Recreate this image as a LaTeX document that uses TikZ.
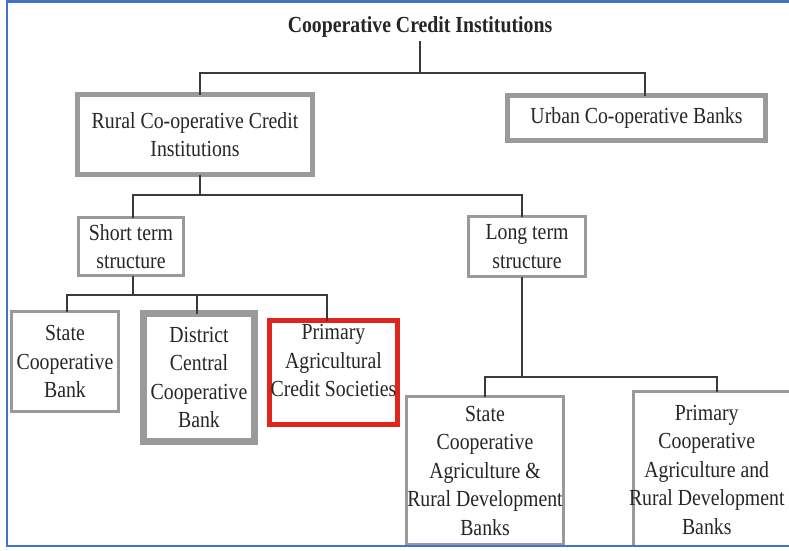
\documentclass[tikz,border=0pt]{standalone}
\usepackage{fontspec}
\setmainfont{Liberation Serif}[FakeStretch=0.86]
\usepackage{tikz}
\usepackage{xcolor}
\definecolor{framecol}{HTML}{4472C4}
\definecolor{boxgray}{HTML}{9A9A9A}
\definecolor{boxred}{HTML}{E0261C}
\definecolor{linecol}{HTML}{3A3A3A}

\begin{document}
\begin{tikzpicture}[x=1pt,y=-1pt,
        every node/.style={font=\fontsize{23}{28.5}\selectfont,text=black!85},
        box/.style={draw=boxgray,fill=white,inner sep=0pt,outer sep=0pt,align=center},
        link/.style={draw=linecol,line width=1.4pt}]
        \useasboundingbox (0,0) rectangle (789,550);
        \node[font=\bfseries\fontsize{23}{28.5}\selectfont] (title) at (420,27) {Cooperative Credit Institutions};
        \node[box,line width=5pt,minimum width=235pt,minimum height=80pt] (rural) at (195,134.5) {Rural Co-operative Credit\\Institutions};
        \node[box,line width=5pt,minimum width=258pt,minimum height=45pt] (urban) at (636.5,118) {Urban Co-operative Banks};
        \node[box,line width=3pt,minimum width=105pt,minimum height=58pt] (short) at (131,246.5) {Short term\\structure};
        \node[box,line width=3pt,minimum width=117pt,minimum height=60pt] (long) at (527,246.5) {Long term\\structure};
        \node[box,line width=3pt,minimum width=107pt,minimum height=100pt] (scb) at (65,361.5) {State\\Cooperative\\Bank};
        \node[box,line width=7pt,minimum width=111pt,minimum height=128pt] (dccb) at (199,377.5) {District\\Central\\Cooperative\\Bank};
        \node[box,draw=boxred,line width=5pt,minimum width=128pt,minimum height=104pt,
            label={[align=center,yshift=12pt]center:{Primary\\Agricultural\\Credit Societies}}] (pacs) at (333.5,372.5) {};
        \node[box,line width=2.5pt,minimum width=157pt,minimum height=148pt] (scard) at (485,470.5) {State\\Cooperative\\Agriculture \&\\Rural Development\\Banks};
        \node[box,line width=2.5pt,minimum width=166.5pt,minimum height=154.5pt,
            label={[align=center,xshift=-10pt,yshift=-1pt]center:{Primary\\Cooperative\\Agriculture and\\Rural Development\\Banks}}] (pcard) at (716.75,468.75) {};
        \coordinate (t1) at (420,73);
        \coordinate (t1L) at (200,73);
        \coordinate (t1R) at (645,73);
        \coordinate (t2) at (200,195);
        \coordinate (t2L) at (133,195);
        \coordinate (t2R) at (522,195);
        \coordinate (t3) at (133,295);
        \coordinate (t3L) at (67,295);
        \coordinate (t3M) at (197,295);
        \coordinate (t3R) at (327,295);
        \coordinate (t4) at (522,377);
        \coordinate (t4L) at (485,377);
        \coordinate (t4R) at (717,377);
        \draw[link] (title.south) -- (t1);
        \draw[link] (rural.north -| t1L) -- (t1L) -- (t1R) -- (urban.north -| t1R);
        \draw[link] (rural.south -| t2) -- (t2);
        \draw[link] (short.north -| t2L) -- (t2L) -- (t2R) -- (long.north -| t2R);
        \draw[link] (short.south -| t3) -- (t3);
        \draw[link] (scb.north -| t3L) -- (t3L) -- (t3R) -- (pacs.north -| t3R);
        \draw[link] (t3M) -- (dccb.north -| t3M);
        \draw[link] (long.south -| t4) -- (t4);
        \draw[link] (scard.north -| t4L) -- (t4L) -- (t4R) -- (pcard.north -| t4R);
        \draw[framecol,line width=2.5pt] (789,1.25) -- (7,1.25) -- (7,546) -- (789,546);
    \end{tikzpicture}
\end{document}
